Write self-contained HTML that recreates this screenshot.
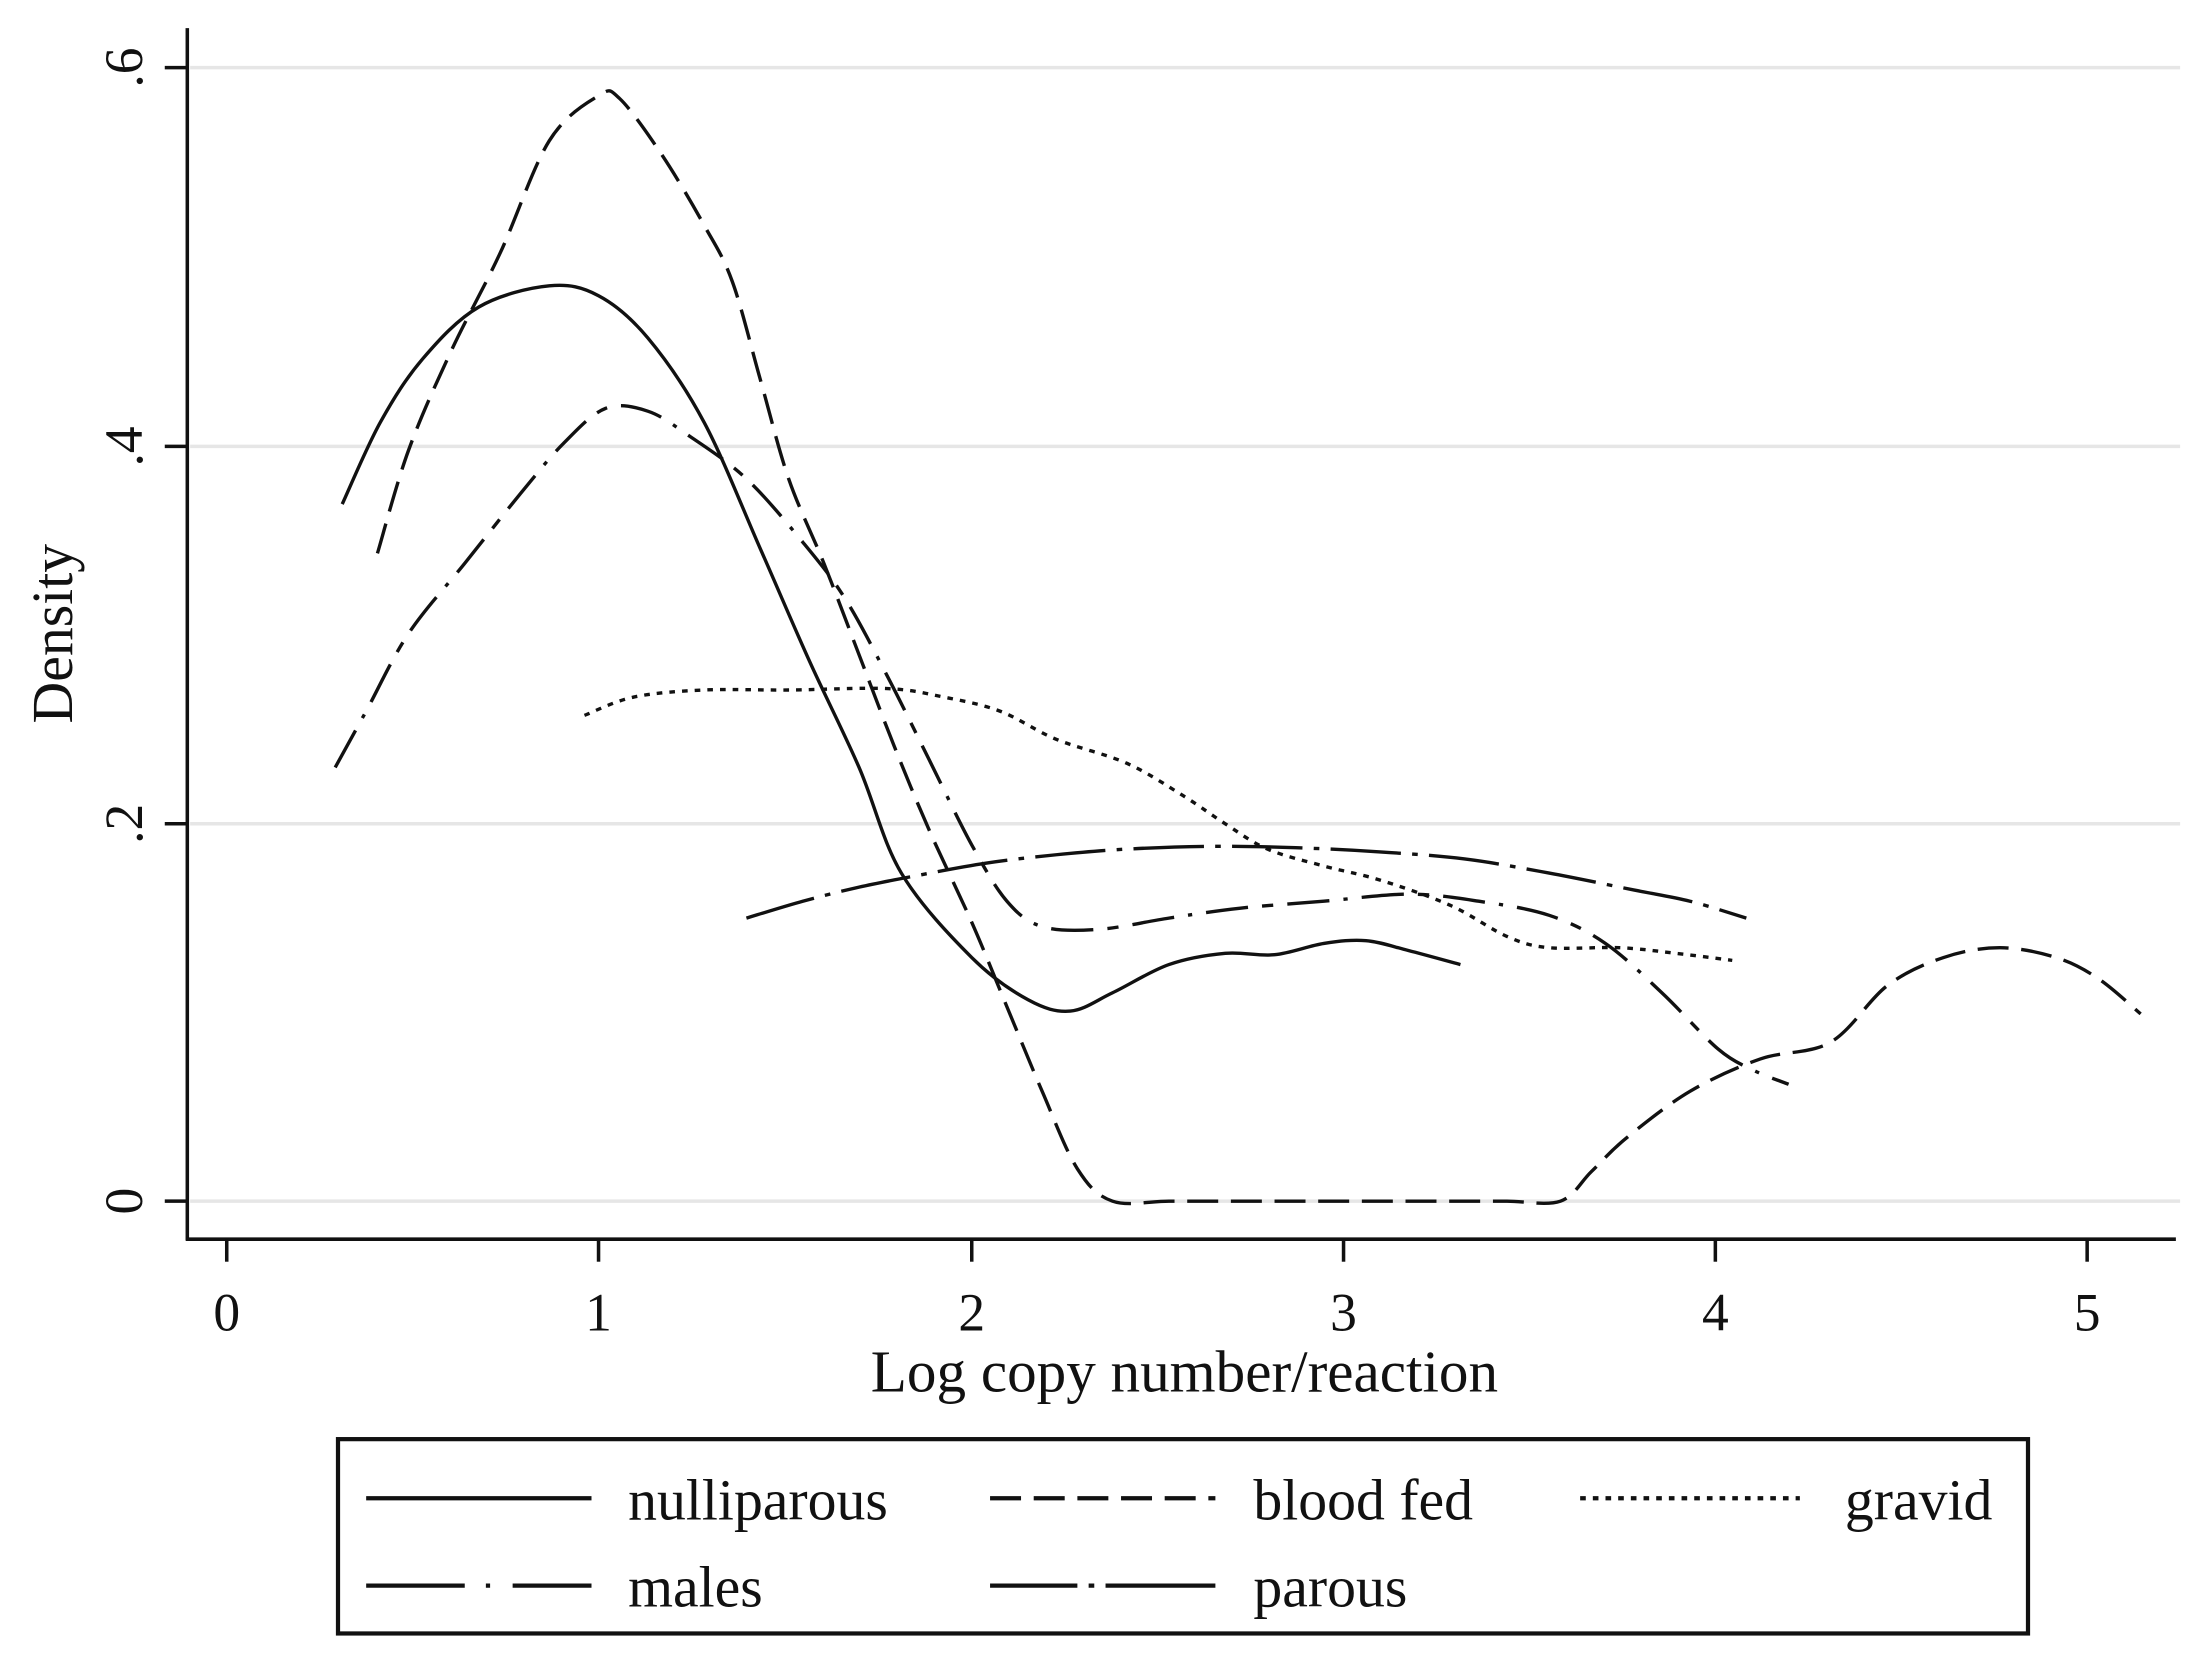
<!DOCTYPE html>
<html><head><meta charset="utf-8"><style>
html,body{margin:0;padding:0;background:#fff;}
svg{display:block;}
text{font-family:"Liberation Serif",serif;fill:#111;}
</style></head><body>
<svg id="s" width="2197" height="1656" viewBox="0 0 1560 1176" preserveAspectRatio="none" xmlns="http://www.w3.org/2000/svg">
<g stroke="#e6e6e6" stroke-width="2.5">
<line x1="135" y1="48" x2="1548" y2="48"/>
<line x1="135" y1="317" x2="1548" y2="317"/>
<line x1="135" y1="585" x2="1548" y2="585"/>
<line x1="135" y1="853" x2="1548" y2="853"/>
</g>
<g stroke="#111" stroke-width="2.5" fill="none">
<line x1="133" y1="20" x2="133" y2="881"/>
<line x1="132" y1="880" x2="1545" y2="880"/>
<line x1="117" y1="48" x2="133" y2="48"/>
<line x1="117" y1="317" x2="133" y2="317"/>
<line x1="117" y1="585" x2="133" y2="585"/>
<line x1="117" y1="853" x2="133" y2="853"/>
<line x1="161" y1="880" x2="161" y2="896"/>
<line x1="425" y1="880" x2="425" y2="896"/>
<line x1="690" y1="880" x2="690" y2="896"/>
<line x1="954" y1="880" x2="954" y2="896"/>
<line x1="1218" y1="880" x2="1218" y2="896"/>
<line x1="1482" y1="880" x2="1482" y2="896"/>
</g>
<g font-size="38" text-anchor="middle">
<text x="161" y="945">0</text><text x="425" y="945">1</text><text x="690" y="945">2</text>
<text x="954" y="945">3</text><text x="1218" y="945">4</text><text x="1482" y="945">5</text>
<text transform="translate(101,48) rotate(-90)">.6</text>
<text transform="translate(101,317) rotate(-90)">.4</text>
<text transform="translate(101,585) rotate(-90)">.2</text>
<text transform="translate(101,853) rotate(-90)">0</text>
<text x="841" y="988" font-size="42">Log copy number/reaction</text>
<text transform="translate(51,450) rotate(-90)" font-size="41">Density</text>
</g>
<g fill="none" stroke="#111" stroke-width="2.4" stroke-linejoin="round" stroke-linecap="butt">
<polyline points="243,358 270,300 300,255 340,218 390,203 425,210 460,240 500,300 540,390 575,470 610,545 640,620 690,680 730,710 760,718 790,705 830,685 870,677 905,678 940,670 970,668 1000,675 1037,685"/>
<polyline stroke-dasharray="22,9" points="268,393 290,320 320,250 355,180 390,100 425,68 440,70 470,110 500,160 520,200 540,270 560,340 585,400 610,465 635,530 660,590 690,655 715,715 740,775 765,830 790,853 830,853 870,853 910,853 950,853 990,853 1030,853 1070,853 1108,853 1130,832 1155,808 1200,775 1250,752 1300,740 1340,700 1380,680 1420,673 1460,680 1490,695 1520,720"/>
<polyline stroke-dasharray="4,5" points="415,508 450,495 500,490 560,490 630,489 670,495 710,505 750,525 800,542 840,565 870,585 900,603 940,615 980,625 1030,643 1070,665 1100,673 1150,673 1190,677 1230,682"/>
<polyline stroke-dasharray="30,10,3,10,30,10,8,10" points="238,545 260,505 290,450 330,400 370,350 400,315 430,290 460,292 490,310 530,340 570,385 600,425 630,480 660,540 690,600 715,640 740,658 780,660 830,652 880,645 940,640 1000,635 1050,640 1100,650 1140,670 1180,705 1220,745 1245,760 1270,770"/>
<polyline stroke-dasharray="50,8,4,8" points="530,652 570,640 610,630 650,622 700,613 750,607 800,603 860,601 920,602 980,605 1040,610 1100,620 1160,632 1200,640 1240,652"/>
</g>
<rect x="240" y="1022" width="1200" height="138" fill="none" stroke="#111" stroke-width="3"/>
<g fill="none" stroke="#111" stroke-width="3">
<line x1="260" y1="1064" x2="420" y2="1064"/>
<line x1="703" y1="1064" x2="863" y2="1064" stroke-dasharray="22,9"/>
<line x1="1122" y1="1064" x2="1278" y2="1064" stroke-dasharray="4,5"/>
<line x1="260" y1="1126" x2="420" y2="1126" stroke-dasharray="70,15,3,16,68,36,15"/>
<line x1="703" y1="1126" x2="863" y2="1126" stroke-dasharray="62,8,4,8,80"/>
</g>
<g font-size="41">
<text x="446" y="1079">nulliparous</text>
<text x="890" y="1079">blood fed</text>
<text x="1310" y="1079">gravid</text>
<text x="446" y="1141">males</text>
<text x="890" y="1141">parous</text>
</g>
</svg>
<script>
document.querySelectorAll('polyline').forEach(function(pl){
  var p=pl.getAttribute('points').trim().split(/\s+/).map(function(s){return s.split(',').map(Number);});
  var d='M'+p[0][0]+','+p[0][1];
  for(var i=0;i<p.length-1;i++){
    var p0=p[i-1]||p[i],p1=p[i],p2=p[i+1],p3=p[i+2]||p2;
    var c1x=p1[0]+(p2[0]-p0[0])/6,c1y=p1[1]+(p2[1]-p0[1])/6;
    var c2x=p2[0]-(p3[0]-p1[0])/6,c2y=p2[1]-(p3[1]-p1[1])/6;
    d+=' C'+c1x+','+c1y+' '+c2x+','+c2y+' '+p2[0]+','+p2[1];
  }
  var path=document.createElementNS('http://www.w3.org/2000/svg','path');
  path.setAttribute('d',d);
  var da=pl.getAttribute('stroke-dasharray'); if(da) path.setAttribute('stroke-dasharray',da);
  pl.parentNode.replaceChild(path,pl);
});
</script>
</body></html>
